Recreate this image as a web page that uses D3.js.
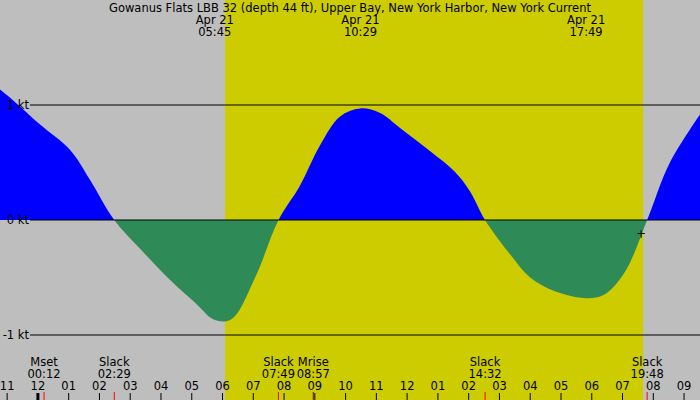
<!DOCTYPE html>
<html><head><meta charset="utf-8">
<script src="https://cdn.jsdelivr.net/npm/d3@7"></script>
<style>body{margin:0}text{font-family:"DejaVu Sans",sans-serif;font-size:11.5px;fill:#000}</style>
</head><body><svg id="c" width="700" height="400"></svg>
<script>
// hours since midnight Apr 21, knots
const hours = [-1.3, -0.8, 0.07, 1.04, 1.69, 2.48, 3.32, 4.29, 5.11, 5.75, 6.3, 7.06, 7.82,
  8.52, 9.17, 9.82, 10.47, 11.12, 11.77, 12.74, 13.55, 14.04, 14.53,
  15.35, 16.0, 16.8, 17.83, 18.4, 19.08, 19.8, 20.54, 21.6];
const speeds = [1.15, 1.04, 0.83, 0.61, 0.35, 0, -0.25, -0.52, -0.72, -0.87, -0.86, -0.5, 0,
  0.3, 0.65, 0.9, 0.97, 0.93, 0.8, 0.6, 0.42, 0.25, 0,
  -0.3, -0.5, -0.62, -0.68, -0.65, -0.45, 0, 0.5, 0.95];
const yTicks = [1, 0, -1];
const sun = [6.08, 19.67];
const peaks = [{h: 5.75, t: '05:45'}, {h: 10.483, t: '10:29'}, {h: 17.817, t: '17:49'}];
const events = [{h: 0.2, a: 'Mset', b: '00:12'}, {h: 2.483, a: 'Slack', b: '02:29'},
  {h: 7.817, a: 'Slack', b: '07:49'}, {h: 8.95, a: 'Mrise', b: '08:57'},
  {h: 14.533, a: 'Slack', b: '14:32'}, {h: 19.8, a: 'Slack', b: '19:48'}];
const hourTicks = d3.range(-1, 22);

const svg = d3.select('#c');
const x = d3.scaleLinear().domain([0, 1]).range([37.9, 37.9 + 30.77]);
const y = d3.scaleLinear().domain([0, 1]).range([220, 105]);
const pts = hours.map((h, i) => [h, speeds[i]]);

svg.append('rect').attr('width', 700).attr('height', 400).attr('fill', '#bebebe');
svg.append('rect').attr('x', x(sun[0])).attr('width', x(sun[1]) - x(sun[0]))
  .attr('height', 400).attr('fill', '#cccc00');

const area = d3.area().x((d) => x(d[0])).y0(y(0)).y1((d) => y(d[1])).curve(d3.curveCatmullRom.alpha(0.5));
const defs = svg.append('defs');
defs.append('clipPath').attr('id', 'up').append('rect').attr('width', 700).attr('height', y(0));
defs.append('clipPath').attr('id', 'dn').append('rect').attr('y', y(0)).attr('width', 700).attr('height', 200);
svg.append('path').datum(pts).attr('d', area).attr('fill', '#0000ff').attr('clip-path', 'url(#up)');
svg.append('path').datum(pts).attr('d', area).attr('fill', '#2e8b57').attr('clip-path', 'url(#dn)');

yTicks.forEach((v) => {
  svg.append('line').attr('x1', 30).attr('x2', 700).attr('y1', y(v)).attr('y2', y(v)).attr('stroke', '#000');
  svg.append('text').attr('x', 29).attr('y', y(v) + 4).attr('text-anchor', 'end').text(`${v} kt`);
});

svg.append('text').attr('x', 350).attr('y', 12).attr('text-anchor', 'middle')
  .text('Gowanus Flats LBB 32 (depth 44 ft), Upper Bay, New York Harbor, New York Current');
peaks.forEach((p) => {
  svg.append('text').attr('x', x(p.h)).attr('y', 24).attr('text-anchor', 'middle').text('Apr 21');
  svg.append('text').attr('x', x(p.h)).attr('y', 36).attr('text-anchor', 'middle').text(p.t);
});

// current-time marker
svg.append('text').attr('x', 641).attr('y', 238).attr('text-anchor', 'middle').text('+');

events.forEach((e) => {
  svg.append('text').attr('x', x(e.h)).attr('y', 366).attr('text-anchor', 'middle').text(e.a);
  svg.append('text').attr('x', x(e.h)).attr('y', 378).attr('text-anchor', 'middle').text(e.b);
  svg.append('line').attr('x1', x(e.h)).attr('x2', x(e.h)).attr('y1', 392).attr('y2', 400)
    .attr('stroke', e.a === 'Mrise' ? '#800000' : '#ff0000');
});
hourTicks.forEach((h) => {
  const lab = d3.format('02')(((h % 12) + 12) % 12 || 12);
  svg.append('text').attr('x', x(h)).attr('y', 390).attr('text-anchor', 'middle').text(lab);
  svg.append('line').attr('x1', x(h)).attr('x2', x(h)).attr('y1', 393).attr('y2', 400)
    .attr('stroke', '#000').attr('stroke-width', h === 0 ? 3 : 1);
});
</script></body></html>
